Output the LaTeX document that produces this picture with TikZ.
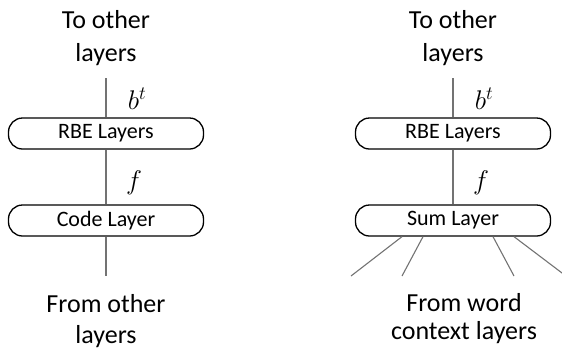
\RequirePackage{fix-cm}
\documentclass[tikz,border=0pt]{standalone}
\usepackage{fontspec}
\setmainfont{Carlito}
\begin{document}
\begin{tikzpicture}[x=1pt,y=-1pt,
  layerbox/.style={draw=black, line width=1.3pt, rounded corners=14pt, minimum width=195pt, minimum height=31pt, inner sep=0pt, font=\fontsize{22}{24}\selectfont},
  outlbl/.style={anchor=base, inner sep=0pt, font=\fontsize{26}{30}\selectfont},
  mathlbl/.style={anchor=base, inner sep=0pt, font=\fontsize{27}{30}\selectfont},
  wire/.style={draw=black!55, line width=1.1pt}]
\useasboundingbox (0,0) rectangle (562,349);
\clip (0,0) rectangle (562,349);
% left column
\node[outlbl] (lt1) at (106,28) {To other};
\node[outlbl] (lt2) at (106,61) {layers};
\coordinate (ltop) at (106,78);
\node[layerbox] (lrbe) at (106,133.5) {RBE Layers};
\node[layerbox] (lcode) at (106,220.5) {Code Layer};
\coordinate (lbot) at (106,276);
\draw[wire] (ltop) -- (lrbe.north);
\draw[wire] (lrbe.south) -- (lcode.north);
\draw[wire] (lcode.south) -- (lbot);
\node[mathlbl] (lb) at (137,109) {$b^t$};
\node[mathlbl] (lf) at (134,189) {$f$};
\node[outlbl] (lf1) at (106,312.5) {From other};
\node[outlbl] (lf2) at (106,343) {layers};
% right column
\node[outlbl] (rt1) at (453,28) {To other};
\node[outlbl] (rt2) at (453,61) {layers};
\coordinate (rtop) at (453,78);
\node[layerbox] (rrbe) at (453,133.5) {RBE Layers};
\node[layerbox] (rsum) at (453,220.5) {Sum Layer};
\draw[wire] (rtop) -- (rrbe.north);
\draw[wire] (rrbe.south) -- (rsum.north);
\node[mathlbl] (rb) at (484,109) {$b^t$};
\node[mathlbl] (rf) at (481,189) {$f$};
\coordinate (w1) at (351,276);
\coordinate (w2) at (402,276);
\coordinate (w3) at (514,276);
\coordinate (w4) at (566,276);
\draw[wire] ([xshift=-51pt]rsum.south) -- (w1);
\draw[wire] ([xshift=-30pt]rsum.south) -- (w2);
\draw[wire] ([xshift=40pt]rsum.south) -- (w3);
\draw[wire] ([xshift=61pt]rsum.south) -- (w4);
\node[outlbl] (rf1) at (464,311.5) {From word};
\node[outlbl] (rf2) at (464,339) {context layers};
\end{tikzpicture}
\end{document}
